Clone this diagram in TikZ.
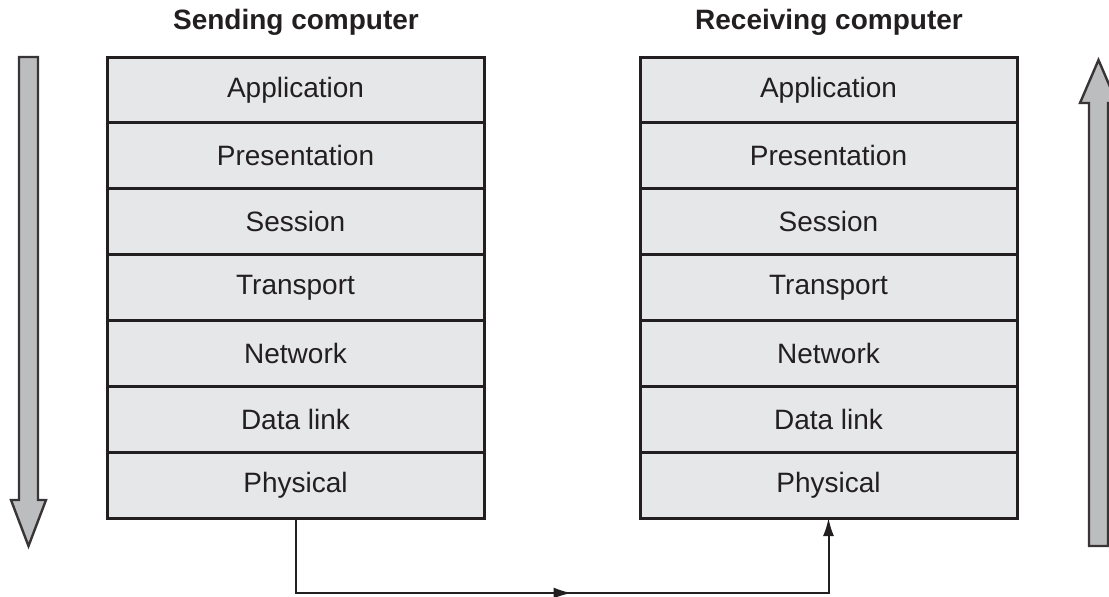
\documentclass[tikz,border=0pt]{standalone}
\usepackage{fontspec}
\setmainfont{Liberation Sans}
\usetikzlibrary{arrows.meta,calc}
\definecolor{layerfill}{HTML}{E6E7E8}
\definecolor{edge}{HTML}{231F20}
\definecolor{bigarrow}{HTML}{BCBDBF}
\tikzset{
  layer/.style={draw=edge, line width=1.5pt, fill=layerfill, minimum width=188.5pt, minimum height=32.93pt, inner sep=0pt, outer sep=0pt, font=\fontsize{14}{16}\selectfont, text=edge},
  title/.style={font=\bfseries\fontsize{14}{16}\selectfont, text=edge},
  bigarr/.style={draw=edge!90, line width=1.2pt, fill=bigarrow, line join=miter},
  conn/.style={draw=edge, line width=1pt},
  tip/.style={-{Latex[length=9pt,width=5.5pt]}}
}
\begin{document}
\begin{tikzpicture}[x=0.5pt,y=0.5pt]
\useasboundingbox (0,0) rectangle (1109,-596);
\clip (0,0) rectangle (1109,-596);
% titles
\node[title] (st) at (296,-22) {Sending computer};
\node[title] (rt) at (829,-22) {Receiving computer};
% stacks
\foreach \name [count=\i from 0] in {Application,Presentation,Session,Transport,Network,Data link,Physical}{
  \node[layer] (s\i) at (295.5,{-57-65.86*(\i+0.5)}) {\name};
  \node[layer] (r\i) at (828.5,{-57-65.86*(\i+0.5)}) {\name};
}
% big arrows
\draw[bigarr] (19,-57) -- (38,-57) -- (38,-500) -- (46,-500) -- (28.5,-546) -- (11,-500) -- (19,-500) -- cycle;
\draw[bigarr] (1089,-546) -- (1108,-546) -- (1108,-103) -- (1117,-103) -- (1098.5,-60) -- (1080,-103) -- (1089,-103) -- cycle;
% connector
\coordinate (bl) at (s6.south |- 0,-593);
\coordinate (br) at (r6.south |- 0,-593);
\draw[conn, tip] (s6.south) -- (bl) -- (br) -- (r6.south);
\draw[conn, tip] (bl) -- ($(bl)!0.518!(br)$);
\end{tikzpicture}
\end{document}
